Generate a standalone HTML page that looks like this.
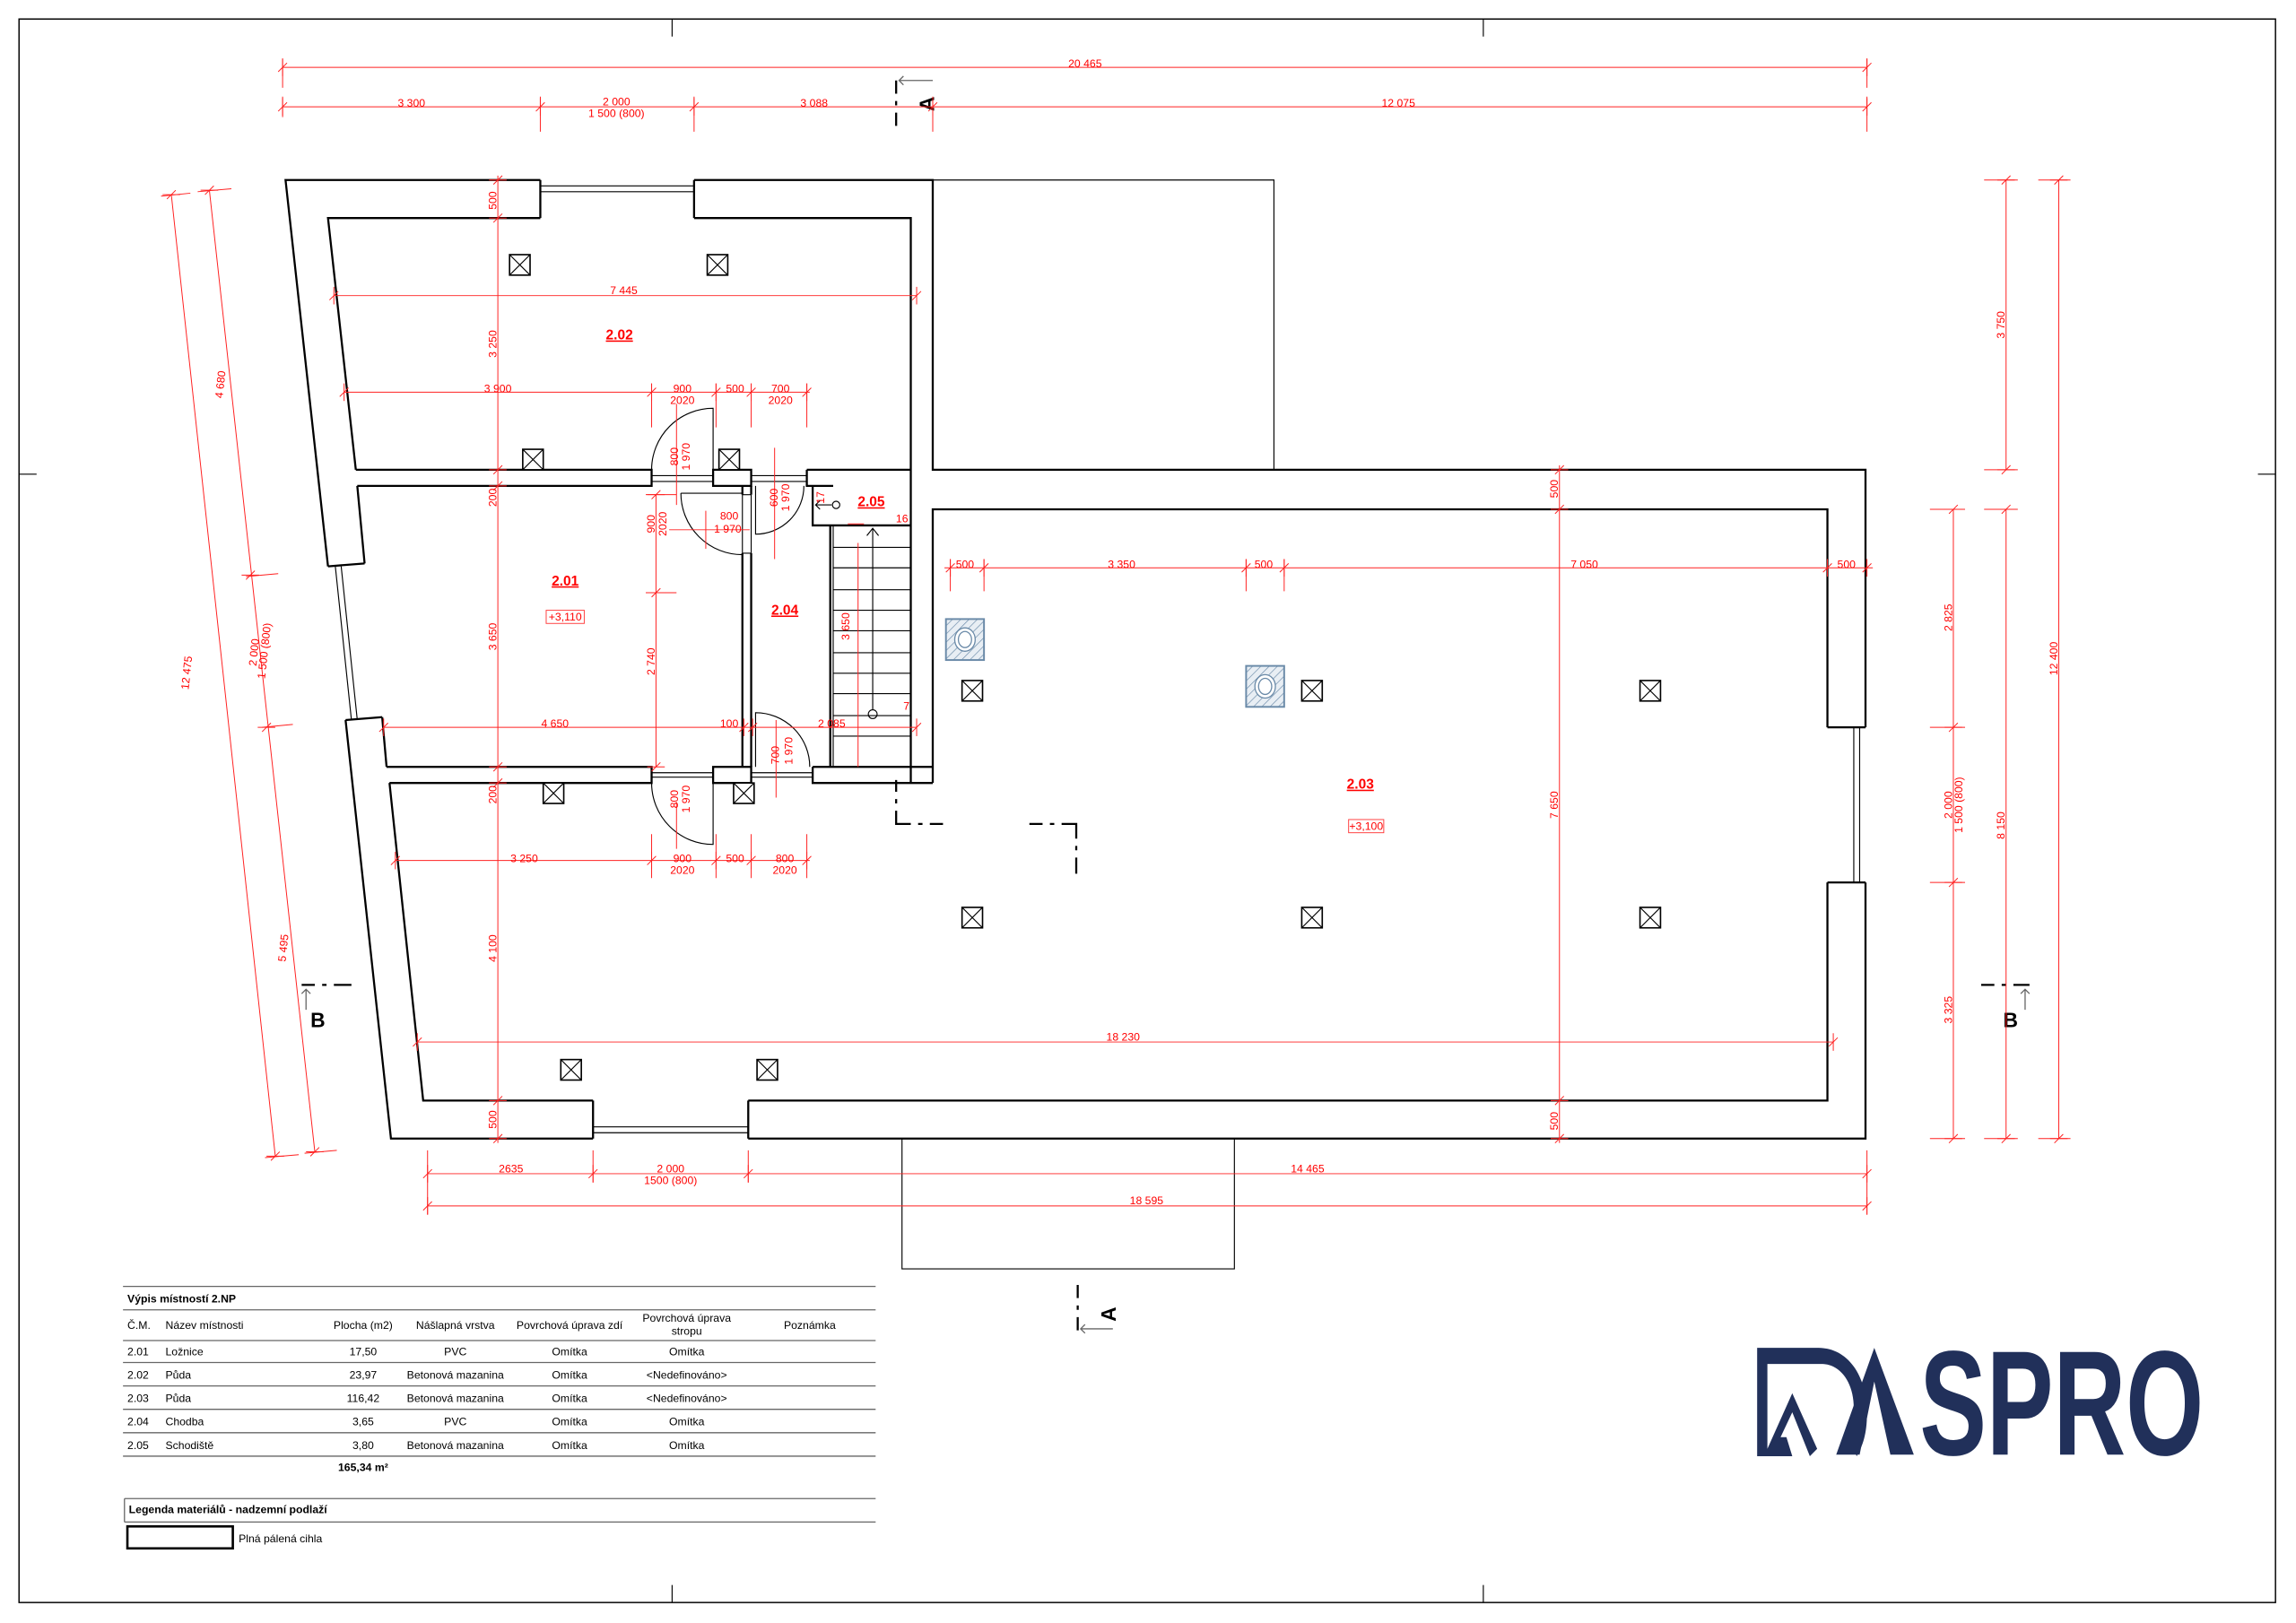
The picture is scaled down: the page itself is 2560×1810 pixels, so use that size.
<!DOCTYPE html>
<html><head><meta charset="utf-8"><style>
html,body{margin:0;padding:0;background:#fff;}
svg{display:block;}
.w{stroke:#000;stroke-width:1.4;fill:none;}
.t{stroke:#000;stroke-width:0.7;fill:none;}
.d{stroke:#ff2020;stroke-width:0.6;fill:none;}
.dt{fill:#ff0000;font-family:"Liberation Sans",sans-serif;font-size:7.5px;text-anchor:middle;}
.rl{fill:#ff0000;font-family:"Liberation Sans",sans-serif;font-size:9.5px;font-weight:bold;text-anchor:middle;text-decoration:underline;}
.tb{fill:#000;font-family:"Liberation Sans",sans-serif;font-size:7.5px;}
.tc{text-anchor:middle;}
.b{font-weight:bold;}
</style></head><body>
<svg width="2560" height="1810" viewBox="0 0 1568 1109" preserveAspectRatio="none" xmlns="http://www.w3.org/2000/svg">
<defs>
<g id="th"><line x1="0" y1="-6" x2="0" y2="6" stroke="#ff2020" stroke-width="0.6"/><line x1="-3" y1="3" x2="3" y2="-3" stroke="#ff2020" stroke-width="0.6"/></g>
<g id="tv"><line x1="-6" y1="0" x2="6" y2="0" stroke="#ff2020" stroke-width="0.6"/><line x1="-3" y1="3" x2="3" y2="-3" stroke="#ff2020" stroke-width="0.6"/></g>
<g id="x"><rect x="-7" y="-7" width="14" height="14" fill="#fff" stroke="#000" stroke-width="1"/><path d="M-7,-7L7,7M7,-7L-7,7" stroke="#000" stroke-width="0.7"/></g>
<pattern id="hat" width="4" height="4" patternUnits="userSpaceOnUse" patternTransform="rotate(45)"><line x1="0" y1="0" x2="0" y2="4" stroke="#6a8aa8" stroke-width="0.8"/></pattern>
<g id="ch"><rect x="-13" y="-14" width="26" height="28" fill="#e8eef4" stroke="#6a8aa8" stroke-width="1.2"/><rect x="-13" y="-14" width="26" height="28" fill="url(#hat)"/><ellipse cx="0" cy="0" rx="7" ry="8" fill="#fff" stroke="#6a8aa8" stroke-width="0.8"/><ellipse cx="0" cy="0" rx="4.5" ry="5.5" fill="#fff" stroke="#6a8aa8" stroke-width="0.8"/></g>
</defs>
<rect x="0" y="0" width="1568" height="1109" fill="#fff"/>
<rect x="13" y="13" width="1541" height="1082" fill="none" stroke="#000" stroke-width="0.9"/>
<path class="t" d="M459,13V25M1013,13V25M459,1083V1095M1013,1083V1095M13,324H25M1542,324H1554"/>

<path class="t" d="M637,123H870V321M616,778V867H843V778"/>

<path class="w" d="M369,123H195L224,387M236,492L267,778H405M511,778H1274V603M1274,497V321H637V123H474"/>
<path class="w" d="M369,123V149M474,123V149"/>
<path class="t" d="M369,127H474M369,131H474"/>
<path class="w" d="M405,752V778M511,752V778"/>
<path class="t" d="M405,770H511M405,774H511"/>
<path class="w" d="M1248,497H1274M1248,603H1274"/>
<path class="t" d="M1266,497V603M1270,497V603"/>
<path class="w" d="M224,387L249,385M236,492L261,490"/>
<path class="t" d="M229,387L240,492M233,387L244,492"/>

<path class="w" d="M243,321L224,149H369M474,149H622V535M244,332L249,385M261,490L264,524M266,535L289,752H405M511,752H1248V603M1248,497V348H637V535"/>
<path class="w" d="M243,321H445V332H244M487,321H513V332H487ZM551,321H622M551,321V332H569M445,321V332"/>
<path class="t" d="M445,325H487M445,329H487M513,325H551M513,329H551"/>
<path class="w" d="M264,524H445V535H266M487,524H513V535H487ZM555,524H637M555,524V535H637M445,524V535"/>
<path class="t" d="M445,528H487M445,531H487M513,528H555M513,531H555"/>
<path class="w" d="M507,378V524M513,378V524M507,332V338M513,332V338"/>
<path class="t" d="M507,338V378M513,338V378M507,378H513M507,338H513"/>
<path class="w" d="M567,359V524M555,332V359H622"/>
<path class="t" d="M569,359V524"/>
<path class="t" d="M569,374H622M569,388H622M569,403H622M569,417H622M569,431H622M569,446H622M569,460H622M569,474H622M569,489H622M569,503H622"/>
<path class="t" d="M596,485V361M592,366L596,361L600,366"/>
<circle cx="596" cy="488" r="3" class="t"/>
<circle cx="571" cy="345" r="2.5" class="t"/>
<path class="t" d="M568,345H557M560,342L557,345L560,348"/>

<path class="t" d="M487,321V279A42,42 0 0 0 445,321"/>
<path class="t" d="M465,337H507M465,337A42,42 0 0 0 507,379"/>
<path class="t" d="M516,332V365A33,33 0 0 0 549,332"/>
<path class="t" d="M487,535V577A42,42 0 0 1 445,535"/>
<path class="t" d="M516,524V487A37,37 0 0 1 553,524"/>

<use href="#x" x="355" y="181"/><use href="#x" x="490" y="181"/>
<use href="#x" x="364" y="314"/><use href="#x" x="498" y="314"/>
<use href="#x" x="378" y="542"/><use href="#x" x="508" y="542"/>
<use href="#x" x="390" y="731"/><use href="#x" x="524" y="731"/>
<use href="#x" x="664" y="472"/><use href="#x" x="896" y="472"/><use href="#x" x="1127" y="472"/>
<use href="#x" x="664" y="627"/><use href="#x" x="896" y="627"/><use href="#x" x="1127" y="627"/>
<use href="#ch" x="659" y="437"/><use href="#ch" x="864" y="469"/>

<g stroke="#000" stroke-width="1.4" fill="none">
<path d="M612,55V64M612,69V72M612,77V86" />
<path d="M612,533V541M612,546V549M612,554V563H622M627,563H630M635,563H644"/>
<path d="M703,563H712M717,563H720M725,563H735V573M735,578V581M735,586V597"/>
<path d="M736,878V887M736,892V895M736,900V909"/>
<path d="M206,673H215M220,673H223M228,673H240"/>
<path d="M1353,673H1362M1367,673H1370M1375,673H1386"/>
</g>
<path d="M614,55H637M617,52L614,55L617,58" stroke="#666" stroke-width="0.8" fill="none"/>
<path d="M738,908H760M741,905L738,908L741,911" stroke="#666" stroke-width="0.8" fill="none"/>
<path d="M209,676V690M206,679L209,676L212,679" stroke="#666" stroke-width="0.8" fill="none"/>
<path d="M1383,676V690M1380,679L1383,676L1386,679" stroke="#666" stroke-width="0.8" fill="none"/>
<g font-family="Liberation Sans,sans-serif" font-weight="bold" font-size="14" fill="#000">
<text x="0" y="0" transform="translate(638,71) rotate(-90)" text-anchor="middle">A</text>
<text x="0" y="0" transform="translate(762,898) rotate(-90)" text-anchor="middle">A</text>
<text x="212" y="702">B</text>
<text x="1368" y="702">B</text>
</g>

<path class="d" d="M193,46H1275M193,40V60M1275,40V60M193,73H1275M193,66V80M369,66V90M474,66V90M637,66V90M1275,66V90"/>
<use href="#th" x="193" y="46"/><use href="#th" x="1275" y="46"/>
<use href="#th" x="193" y="73"/><use href="#th" x="369" y="73"/><use href="#th" x="474" y="73"/><use href="#th" x="637" y="73"/><use href="#th" x="1275" y="73"/>
<text class="dt" x="741" y="46">20 465</text>
<text class="dt" x="281" y="73">3 300</text>
<text class="dt" x="421" y="72">2 000</text>
<text class="dt" x="421" y="80">1 500 (800)</text>
<text class="dt" x="556" y="73">3 088</text>
<text class="dt" x="955" y="73">12 075</text>

<path class="d" d="M117,133L188,790M143,130L215,787M110,134L130,132M135,131L158,129M168,394L190,392M179,497L200,495M181,791L204,789M208,788L230,786"/>
<use href="#tv" x="117" y="133"/><use href="#tv" x="188" y="790"/><use href="#tv" x="143" y="130"/><use href="#tv" x="171" y="393"/><use href="#tv" x="182" y="497"/><use href="#tv" x="215" y="787"/>
<text class="dt" transform="translate(153,263) rotate(-83.8)">4 680</text>
<text class="dt" transform="translate(130,460) rotate(-83.8)">12 475</text>
<text class="dt" transform="translate(176,446) rotate(-83.8)">2 000</text>
<text class="dt" transform="translate(183,445) rotate(-83.8)">1 500 (800)</text>
<text class="dt" transform="translate(196,648) rotate(-83.8)">5 495</text>

<path class="d" d="M1370,123V321M1406,123V778M1334,348V778M1370,348V778M1355,123H1378M1392,123H1414M1355,321H1378M1318,348H1342M1355,348H1378M1318,497H1342M1318,603H1342M1318,778H1342M1355,778H1378M1392,778H1414"/>
<use href="#tv" x="1370" y="123"/><use href="#tv" x="1370" y="321"/><use href="#tv" x="1406" y="123"/><use href="#tv" x="1406" y="778"/>
<use href="#tv" x="1334" y="348"/><use href="#tv" x="1334" y="497"/><use href="#tv" x="1334" y="603"/><use href="#tv" x="1334" y="778"/><use href="#tv" x="1370" y="348"/><use href="#tv" x="1370" y="778"/>
<text class="dt" transform="translate(1369,222) rotate(-90)">3 750</text>
<text class="dt" transform="translate(1405,450) rotate(-90)">12 400</text>
<text class="dt" transform="translate(1333,422) rotate(-90)">2 825</text>
<text class="dt" transform="translate(1333,550) rotate(-90)">2 000</text>
<text class="dt" transform="translate(1340,550) rotate(-90)">1 500 (800)</text>
<text class="dt" transform="translate(1333,690) rotate(-90)">3 325</text>
<text class="dt" transform="translate(1369,564) rotate(-90)">8 150</text>

<path class="d" d="M292,802H1275M292,824H1275M292,786V830M405,786V808M511,786V808M1275,786V830"/>
<use href="#th" x="292" y="802"/><use href="#th" x="405" y="802"/><use href="#th" x="511" y="802"/><use href="#th" x="1275" y="802"/><use href="#th" x="292" y="824"/><use href="#th" x="1275" y="824"/>
<text class="dt" x="349" y="801">2635</text>
<text class="dt" x="458" y="801">2 000</text>
<text class="dt" x="458" y="809">1500 (800)</text>
<text class="dt" x="893" y="801">14 465</text>
<text class="dt" x="783" y="823">18 595</text>

<path class="d" d="M228,202H626"/>
<use href="#th" x="228" y="202"/><use href="#th" x="626" y="202"/>
<text class="dt" x="426" y="201">7 445</text>

<path class="d" d="M235,268H553M445,262V292M489,262V292M513,262V292M551,262V292"/>
<use href="#th" x="235" y="268"/><use href="#th" x="445" y="268"/><use href="#th" x="489" y="268"/><use href="#th" x="513" y="268"/><use href="#th" x="551" y="268"/>
<text class="dt" x="340" y="268">3 900</text>
<text class="dt" x="466" y="268">900</text><text class="dt" x="466" y="276">2020</text>
<text class="dt" x="502" y="268">500</text>
<text class="dt" x="533" y="268">700</text><text class="dt" x="533" y="276">2020</text>

<path class="d" d="M340,120V781"/>
<use href="#tv" x="340" y="123"/><use href="#tv" x="340" y="149"/><use href="#tv" x="340" y="321"/><use href="#tv" x="340" y="332"/><use href="#tv" x="340" y="524"/><use href="#tv" x="340" y="535"/><use href="#tv" x="340" y="752"/><use href="#tv" x="340" y="778"/>
<text class="dt" transform="translate(339,137) rotate(-90)">500</text>
<text class="dt" transform="translate(339,235) rotate(-90)">3 250</text>
<text class="dt" transform="translate(339,340) rotate(-90)">200</text>
<text class="dt" transform="translate(339,435) rotate(-90)">3 650</text>
<text class="dt" transform="translate(339,543) rotate(-90)">200</text>
<text class="dt" transform="translate(339,648) rotate(-90)">4 100</text>
<text class="dt" transform="translate(339,765) rotate(-90)">500</text>

<path class="d" d="M448,338V524M441,338H462M441,405H462"/>
<use href="#tv" x="448" y="338"/><use href="#tv" x="448" y="405"/><use href="#tv" x="448" y="524"/>
<text class="dt" transform="translate(447,358) rotate(-90)">900</text>
<text class="dt" transform="translate(455,358) rotate(-90)">2020</text>
<text class="dt" transform="translate(447,452) rotate(-90)">2 740</text>

<path class="d" d="M262,497H626"/>
<use href="#th" x="262" y="497"/><use href="#th" x="508" y="497"/><use href="#th" x="514" y="497"/><use href="#th" x="626" y="497"/>
<text class="dt" x="379" y="497">4 650</text>
<text class="dt" x="498" y="497">100</text>
<text class="dt" x="568" y="497">2 085</text>

<path class="d" d="M270,588H553M445,570V600M489,570V600M513,570V600M551,570V600"/>
<use href="#th" x="270" y="588"/><use href="#th" x="445" y="588"/><use href="#th" x="489" y="588"/><use href="#th" x="513" y="588"/><use href="#th" x="551" y="588"/>
<text class="dt" x="358" y="589">3 250</text>
<text class="dt" x="466" y="589">900</text><text class="dt" x="466" y="597">2020</text>
<text class="dt" x="502" y="589">500</text>
<text class="dt" x="536" y="589">800</text><text class="dt" x="536" y="597">2020</text>

<path class="d" d="M645,388H1279M649,382V404M672,382V404M851,382V404M877,382V404"/>
<use href="#th" x="649" y="388"/><use href="#th" x="672" y="388"/><use href="#th" x="851" y="388"/><use href="#th" x="877" y="388"/><use href="#th" x="1248" y="388"/><use href="#th" x="1275" y="388"/>
<text class="dt" x="659" y="388">500</text>
<text class="dt" x="766" y="388">3 350</text>
<text class="dt" x="863" y="388">500</text>
<text class="dt" x="1082" y="388">7 050</text>
<text class="dt" x="1261" y="388">500</text>

<path class="d" d="M1065,318V781"/>
<use href="#tv" x="1065" y="321"/><use href="#tv" x="1065" y="348"/><use href="#tv" x="1065" y="752"/><use href="#tv" x="1065" y="778"/>
<text class="dt" transform="translate(1064,334) rotate(-90)">500</text>
<text class="dt" transform="translate(1064,550) rotate(-90)">7 650</text>
<text class="dt" transform="translate(1064,766) rotate(-90)">500</text>

<path class="d" d="M285,712H1252"/>
<use href="#th" x="285" y="712"/><use href="#th" x="1252" y="712"/>
<text class="dt" x="767" y="711">18 230</text>

<path class="d" d="M462,276V345M529,306V382M530,492V545M462,548V580M482,349V375M457,362H512M586,371V524M579,358H590"/>
<text class="dt" transform="translate(463,312) rotate(-90)">800</text>
<text class="dt" transform="translate(471,312) rotate(-90)">1 970</text>
<text class="dt" x="498" y="355">800</text><text class="dt" x="497" y="364">1 970</text>
<text class="dt" transform="translate(531,340) rotate(-90)">600</text>
<text class="dt" transform="translate(539,340) rotate(-90)">1 970</text>
<text class="dt" transform="translate(532,516) rotate(-90)">700</text>
<text class="dt" transform="translate(541,513) rotate(-90)">1 970</text>
<text class="dt" transform="translate(463,546) rotate(-90)">800</text>
<text class="dt" transform="translate(471,546) rotate(-90)">1 970</text>
<text class="dt" transform="translate(563,340) rotate(-90)">17</text>
<text class="dt" x="616" y="357">16</text>
<text class="dt" x="619" y="485">7</text>
<text class="dt" transform="translate(580,428) rotate(-90)">3 650</text>

<text class="rl" x="423" y="232">2.02</text>
<text class="rl" x="386" y="400">2.01</text>
<rect x="373" y="417" width="26" height="9" fill="none" stroke="#ff4040" stroke-width="0.6"/>
<text class="dt" x="386" y="424">+3,110</text>
<text class="rl" x="536" y="420">2.04</text>
<text class="rl" x="595" y="346">2.05</text>
<text class="rl" x="929" y="539">2.03</text>
<rect x="921" y="560" width="24" height="9" fill="none" stroke="#ff4040" stroke-width="0.6"/>
<text class="dt" x="933" y="567">+3,100</text>

<g stroke="#666" stroke-width="0.8">
<line x1="84" y1="879" x2="598" y2="879"/>
<line x1="84" y1="895" x2="598" y2="895"/>
<line x1="84" y1="916" x2="598" y2="916"/>
<line x1="84" y1="931" x2="598" y2="931"/>
<line x1="84" y1="947" x2="598" y2="947"/>
<line x1="84" y1="963" x2="598" y2="963"/>
<line x1="84" y1="979" x2="598" y2="979"/>
<line x1="84" y1="995" x2="598" y2="995"/>
<line x1="85" y1="1024" x2="598" y2="1024"/>
<line x1="85" y1="1040" x2="598" y2="1040"/>
<line x1="85" y1="1024" x2="85" y2="1040"/>
</g>
<text class="tb b" x="87" y="890">Výpis místností 2.NP</text>
<text class="tb" x="87" y="908">Č.M.</text>
<text class="tb" x="113" y="908">Název místnosti</text>
<text class="tb tc" x="248" y="908">Plocha (m2)</text>
<text class="tb tc" x="311" y="908">Nášlapná vrstva</text>
<text class="tb tc" x="389" y="908">Povrchová úprava zdí</text>
<text class="tb tc" x="469" y="903">Povrchová úprava</text>
<text class="tb tc" x="469" y="912">stropu</text>
<text class="tb tc" x="553" y="908">Poznámka</text>

<text class="tb" x="87" y="926">2.01</text><text class="tb" x="113" y="926">Ložnice</text><text class="tb tc" x="248" y="926">17,50</text><text class="tb tc" x="311" y="926">PVC</text><text class="tb tc" x="389" y="926">Omítka</text><text class="tb tc" x="469" y="926">Omítka</text>
<text class="tb" x="87" y="942">2.02</text><text class="tb" x="113" y="942">Půda</text><text class="tb tc" x="248" y="942">23,97</text><text class="tb tc" x="311" y="942">Betonová mazanina</text><text class="tb tc" x="389" y="942">Omítka</text><text class="tb tc" x="469" y="942">&lt;Nedefinováno&gt;</text>
<text class="tb" x="87" y="958">2.03</text><text class="tb" x="113" y="958">Půda</text><text class="tb tc" x="248" y="958">116,42</text><text class="tb tc" x="311" y="958">Betonová mazanina</text><text class="tb tc" x="389" y="958">Omítka</text><text class="tb tc" x="469" y="958">&lt;Nedefinováno&gt;</text>
<text class="tb" x="87" y="974">2.04</text><text class="tb" x="113" y="974">Chodba</text><text class="tb tc" x="248" y="974">3,65</text><text class="tb tc" x="311" y="974">PVC</text><text class="tb tc" x="389" y="974">Omítka</text><text class="tb tc" x="469" y="974">Omítka</text>
<text class="tb" x="87" y="990">2.05</text><text class="tb" x="113" y="990">Schodiště</text><text class="tb tc" x="248" y="990">3,80</text><text class="tb tc" x="311" y="990">Betonová mazanina</text><text class="tb tc" x="389" y="990">Omítka</text><text class="tb tc" x="469" y="990">Omítka</text>
<text class="tb b tc" x="248" y="1005">165,34 m²</text>

<text class="tb b" x="88" y="1034">Legenda materiálů - nadzemní podlaží</text>
<rect x="87" y="1043" width="72" height="15" fill="#fff" stroke="#000" stroke-width="1.6"/>
<text class="tb" x="163" y="1054">Plná pálená cihla</text>

<g fill="#21305a">
<path d="M1200,921H1242C1262,921 1275,940 1275,966C1275,980 1272,988 1268,995L1262,982C1265,976 1266,970 1266,962C1266,945 1257,932 1244,932H1207V990L1224,952L1241,990L1236,995L1224,965L1216,982H1220L1224,995H1200Z"/>
<path d="M1280,921L1307,994H1291L1280,944L1270,994H1254Z"/>
</g>
<text x="1311" y="994" fill="#21305a" font-family="Liberation Sans,sans-serif" font-weight="bold" font-size="102" textLength="194" lengthAdjust="spacingAndGlyphs">SPRO</text>
</svg>
</body></html>
